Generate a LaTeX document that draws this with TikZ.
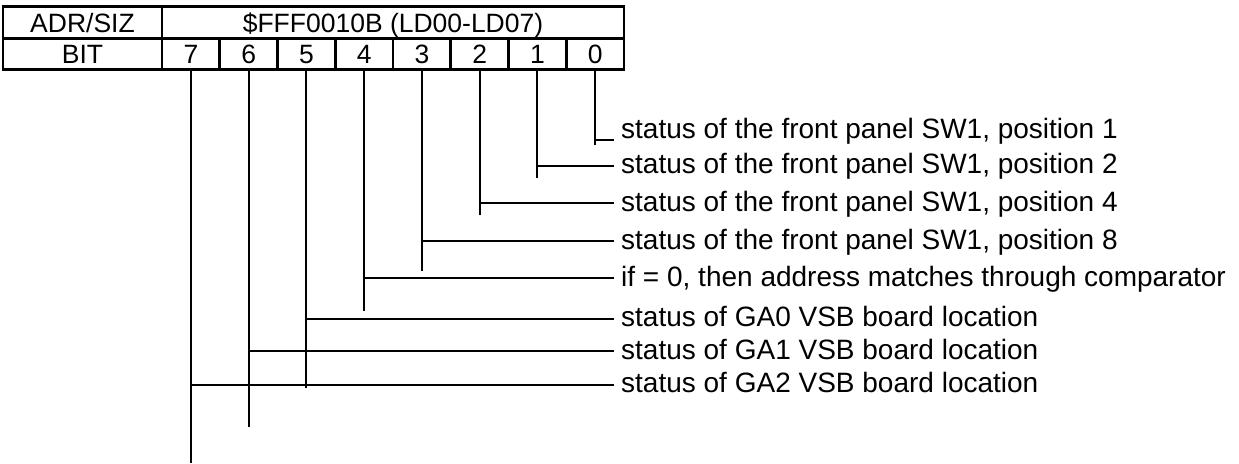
\documentclass[tikz,border=0pt]{standalone}
\usepackage{fontspec}
\setmainfont{Liberation Sans}
\begin{document}
\begin{tikzpicture}[x=1pt,y=-1pt,
  font=\fontsize{28}{32}\selectfont,
  cell/.style={draw, line width=2.8pt, inner sep=0pt, minimum height=31.5pt,
    font=\fontsize{26.5}{30}\selectfont, text height=19.5pt, text depth=0pt, anchor=center},
  conn/.style={draw, line width=1.8pt},
  lbl/.style={anchor=mid west, inner sep=0pt}]
\useasboundingbox (0,0) rectangle (1239,463);
% table
\node[cell, minimum width=159pt] (adr) at (82.5,22.5) {ADR/SIZ};
\node[cell, minimum width=462pt] (addr) at (393,22.5) {\$FFF0010B (LD00-LD07)};
\node[cell, minimum width=159pt] (bitlbl) at (82.5,54) {BIT};
\foreach \b in {0,...,7}{
  \node[cell, minimum width=57.75pt] (b\b) at ({190.875+(7-\b)*57.75},54) {\b};
}
% labels
\node[lbl] (t0) at (621,136) {status of the front panel SW1, position 1};
\node[lbl] (t1) at (621,171) {status of the front panel SW1, position 2};
\node[lbl] (t2) at (621,209) {status of the front panel SW1, position 4};
\node[lbl] (t3) at (621,247) {status of the front panel SW1, position 8};
\node[lbl] (t4) at (621,284) {if = 0, then address matches through comparator};
\node[lbl] (t5) at (621,324) {status of GA0 VSB board location};
\node[lbl] (t6) at (621,357) {status of GA1 VSB board location};
\node[lbl] (t7) at (621,390) {status of GA2 VSB board location};
% connectors
\foreach \b/\jy/\ey in {0/140/145, 1/166/178, 2/203/215, 3/241/271, 4/278/311, 5/319/388, 6/351/427, 7/385/463}{
  \coordinate (e\b) at ({190.875+(7-\b)*57.75},\ey);
  \coordinate (j\b) at (614,\jy);
  \draw[conn] (b\b.south) -- (e\b);
  \draw[conn] (b\b.south |- j\b) -- (j\b);
}
\end{tikzpicture}
\end{document}
